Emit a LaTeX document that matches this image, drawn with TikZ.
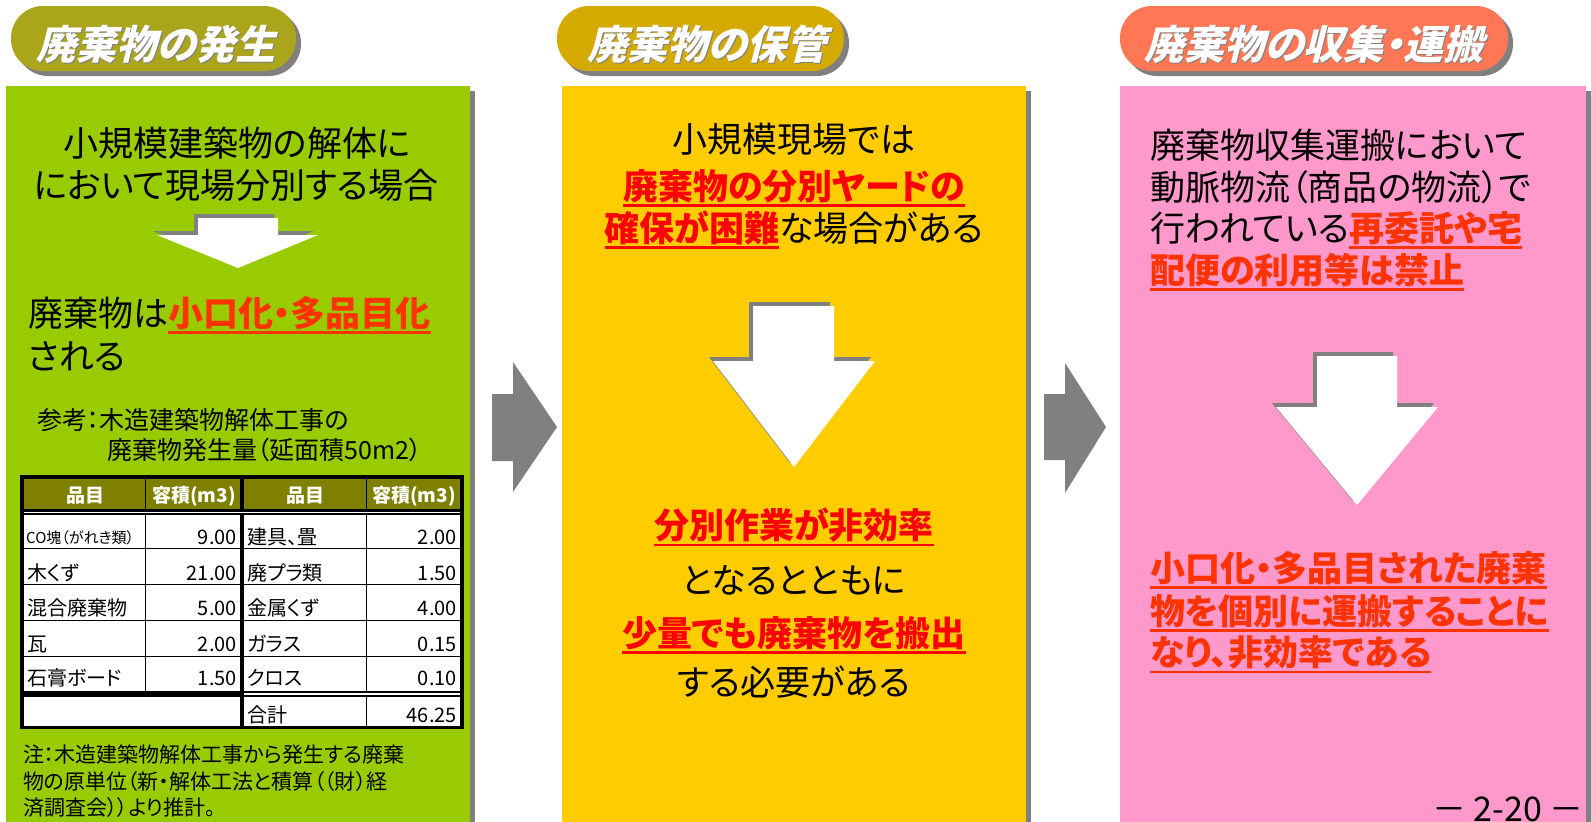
\documentclass[tikz,border=0pt]{standalone}
\usepackage{fontspec}
\setmainfont{Noto Sans CJK JP}[RawFeature=+palt]
\newfontfamily\hdrfont{Noto Sans CJK JP}[FakeSlant=0.25,RawFeature=+palt]
\definecolor{greenP}{RGB}{153,204,0}
\definecolor{yellowP}{RGB}{255,204,0}
\definecolor{pinkP}{RGB}{255,153,204}
\definecolor{pillA}{RGB}{170,165,27}
\definecolor{pillB}{RGB}{212,170,0}
\definecolor{pillC}{RGB}{255,119,85}
\definecolor{shadeG}{RGB}{128,128,128}
\definecolor{olive}{RGB}{128,128,0}
\definecolor{redA}{RGB}{255,51,0}
\definecolor{redB}{RGB}{255,0,0}
\newcommand\ulx[1]{\vtop{\hbox{#1}\kern1.5pt\hrule height 2.6pt}}
\newcommand\redA[1]{{\color{redA}\bfseries\ulx{#1}}}
\newcommand\redB[1]{{\color{redB}\bfseries\ulx{#1}}}
\tikzset{
  fs/.style={font=\fontsize{#1pt}{#1pt}\selectfont, inner sep=0pt,
    text height={0.88*#1pt}, text depth={0.12*#1pt}},
  pill/.style={rounded corners=32pt},
  hdr/.style={fs=40, font=\fontsize{40pt}{40pt}\selectfont\hdrfont\bfseries, text=white},
  hdrsh/.style={fs=40, font=\fontsize{40pt}{40pt}\selectfont\hdrfont\bfseries, text=shadeG},
  main/.style={fs=35},
  cell/.style={fs=20},
  small/.style={fs=15},
  head/.style={fs=19, font=\fontsize{19pt}{19pt}\selectfont\bfseries, text=white},
  note/.style={fs=21},
  ref/.style={fs=25},
}
\begin{document}
\begin{tikzpicture}[x=1pt,y=-1pt]
\useasboundingbox (0,0) rectangle (1591,822);
\clip (0,0) rectangle (1591,822);
\fill[white] (0,0) rectangle (1591,822);

% ---------- panels ----------
\fill[shadeG] (11,91) rectangle (475,830);
\fill[greenP] (6,86) rectangle (470,830);
\fill[shadeG] (567,91) rectangle (1031,830);
\fill[yellowP] (562,86) rectangle (1026,830);
\fill[shadeG] (1125,91) rectangle (1592,830);
\fill[pinkP] (1120,86) rectangle (1586,830);

% ---------- header pills ----------
\fill[shadeG,pill] (16,11) rectangle (301,76);
\fill[pillA,pill] (11,6) rectangle (296,71);
\fill[shadeG,pill] (562,11) rectangle (849,76);
\fill[pillB,pill] (557,6) rectangle (844,71);
\fill[shadeG,pill] (1125,11) rectangle (1513,76);
\fill[pillC,pill] (1120,6) rectangle (1508,71);
\node[hdrsh] (h1s) at (157,45) {廃棄物の発生};
\node[hdr] (h1) at (156,44) {廃棄物の発生};
\node[hdrsh] (h2s) at (708,45) {廃棄物の保管};
\node[hdr] (h2) at (707,44) {廃棄物の保管};
\node[hdrsh] (h3s) at (1315,45) {廃棄物の収集・運搬};
\node[hdr] (h3) at (1314,44) {廃棄物の収集・運搬};

% ---------- gray right arrows ----------
\fill[shadeG] (492,394) -- (513,394) -- (513,362) -- (557,427) -- (513,492) -- (513,461) -- (492,461) -- cycle;
\fill[shadeG] (1044,394) -- (1065,394) -- (1065,363) -- (1106,427) -- (1065,493) -- (1065,460) -- (1044,460) -- cycle;

% ---------- white down arrows ----------
\begin{scope}[shift={(-4,-4)}]
\fill[shadeG] (198,218) -- (278,218) -- (278,235) -- (318,235) -- (238,268) -- (157,235) -- (198,235) -- cycle;
\fill[shadeG] (753,306) -- (834,306) -- (834,361) -- (875,361) -- (794,467) -- (713,361) -- (753,361) -- cycle;
\fill[shadeG] (1317,356) -- (1397,356) -- (1397,407) -- (1438,407) -- (1357,505) -- (1276,407) -- (1317,407) -- cycle;
\end{scope}
\fill[white] (198,218) -- (278,218) -- (278,235) -- (318,235) -- (238,268) -- (157,235) -- (198,235) -- cycle;
\fill[white] (753,306) -- (834,306) -- (834,361) -- (875,361) -- (794,467) -- (713,361) -- (753,361) -- cycle;
\fill[white] (1317,356) -- (1397,356) -- (1397,407) -- (1438,407) -- (1357,505) -- (1276,407) -- (1317,407) -- cycle;

% ---------- panel 1 text ----------
\node[main] (a1) at (237,143) {小規模建築物の解体に};
\node[main] (a2) at (236,185) {において現場分別する場合};
\node[main,anchor=west] (a3) at (28,313) {廃棄物は\redA{小口化・多品目化}};
\node[main,anchor=west] (a4) at (28,356) {される};
\node[ref,anchor=west] (a5) at (37,420) {参考：木造建築物解体工事の};
\node[ref,anchor=west] (a6) at (107,450) {廃棄物発生量（延面積50m2）};

% ---------- table ----------
\fill[black] (20,475) rectangle (464,729);
\fill[olive] (24,479) rectangle (145,509);
\fill[olive] (146,479) rectangle (240,509);
\fill[olive] (244,479) rectangle (366,509);
\fill[olive] (367,479) rectangle (460,509);
\fill[white] (24,511.5) rectangle (460,513);
\foreach \ya/\yb in {515/548,549/584,585/620,621/656,657/691}{
  \fill[white] (24,\ya) rectangle (145,\yb);
  \fill[white] (146,\ya) rectangle (240,\yb);
  \fill[white] (244,\ya) rectangle (366,\yb);
  \fill[white] (367,\ya) rectangle (460,\yb);
}
\fill[white] (244,693) rectangle (460,694.5);
\fill[white] (24,697) rectangle (240,726);
\fill[white] (244,697) rectangle (366,726);
\fill[white] (367,697) rectangle (460,726);

\node[head] (th1) at (85,495) {品目};
\node[head] (th2) at (194,495) {容積(m3)};
\node[head] (th3) at (305,495) {品目};
\node[head] (th4) at (414,495) {容積(m3)};

\node[small,anchor=west] (c11) at (26,538) {CO塊（がれき類）};
\node[cell,anchor=east] (c12) at (237,537) {9.00};
\node[cell,anchor=west] (c13) at (247,537) {建具、畳};
\node[cell,anchor=east] (c14) at (457,537) {2.00};
\node[cell,anchor=west] (c21) at (27,573) {木くず};
\node[cell,anchor=east] (c22) at (237,573) {21.00};
\node[cell,anchor=west] (c23) at (247,573) {廃プラ類};
\node[cell,anchor=east] (c24) at (457,573) {1.50};
\node[cell,anchor=west] (c31) at (27,608) {混合廃棄物};
\node[cell,anchor=east] (c32) at (237,608) {5.00};
\node[cell,anchor=west] (c33) at (247,608) {金属くず};
\node[cell,anchor=east] (c34) at (457,608) {4.00};
\node[cell,anchor=west] (c41) at (27,644) {瓦};
\node[cell,anchor=east] (c42) at (237,644) {2.00};
\node[cell,anchor=west] (c43) at (247,644) {ガラス};
\node[cell,anchor=east] (c44) at (457,644) {0.15};
\node[cell,anchor=west] (c51) at (27,678) {石膏ボード};
\node[cell,anchor=east] (c52) at (237,678) {1.50};
\node[cell,anchor=west] (c53) at (247,678) {クロス};
\node[cell,anchor=east] (c54) at (457,678) {0.10};
\node[cell,anchor=west] (c63) at (247,715) {合計};
\node[cell,anchor=east] (c64) at (457,715) {46.25};

\node[note,anchor=west] (n1) at (23,755) {注：木造建築物解体工事から発生する廃棄};
\node[note,anchor=west] (n2) at (23,782) {物の原単位（新・解体工法と積算（（財）経};
\node[note,anchor=west] (n3) at (23,808) {済調査会））より推計。};

% ---------- panel 2 text ----------
\node[main] (b1) at (794,139) {小規模現場では};
\node[main] (b2) at (794,186) {\redB{廃棄物の分別ヤードの}};
\node[main] (b3) at (794,228) {\redB{確保が困難}な場合がある};
\node[main] (b4) at (794,525) {\redB{分別作業が非効率}};
\node[main] (b5) at (794,580) {となるとともに};
\node[main] (b6) at (794,633) {\redB{少量でも廃棄物を搬出}};
\node[main] (b7) at (794,682) {する必要がある};

% ---------- panel 3 text ----------
\node[main,anchor=west] (d1) at (1150,145) {廃棄物収集運搬において};
\node[main,anchor=west] (d2) at (1150,187) {動脈物流（商品の物流）で};
\node[main,anchor=west] (d3) at (1150,228) {行われている\redA{再委託や宅}};
\node[main,anchor=west] (d4) at (1150,270) {\redA{配便の利用等は禁止}};
\node[main,anchor=west] (d5) at (1150,568) {\redA{小口化・多品目された廃棄}};
\node[main,anchor=west] (d6) at (1150,611) {\redA{物を個別に運搬することに}};
\node[main,anchor=west] (d7) at (1150,652) {\redA{なり、非効率である}};

% ---------- page number ----------
\node[fs=34,anchor=base] (pg) at (1508,821) {－ 2-20 －};
\end{tikzpicture}
\end{document}
